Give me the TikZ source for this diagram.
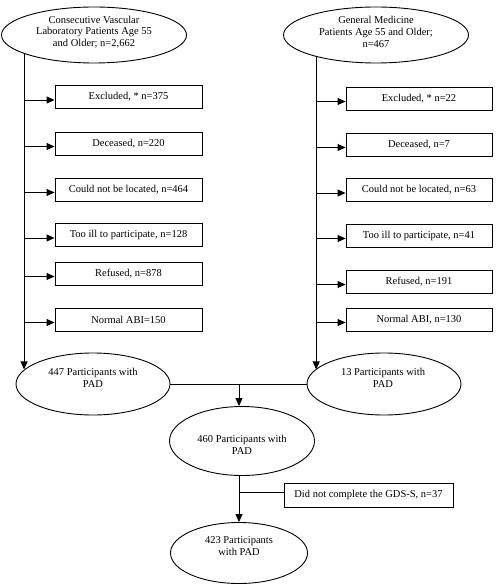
\documentclass[tikz,border=0pt]{standalone}
\usepackage{fontspec}
\setmainfont{Liberation Serif}
\usetikzlibrary{shapes.geometric,arrows.meta,calc}
\begin{document}
\begin{tikzpicture}[x=1pt,y=-1pt,
  font=\fontsize{10.5}{11.8}\selectfont,
  line width=0.9pt,
  oval/.style={draw, ellipse, inner sep=0pt},
  box/.style={draw, rectangle, minimum height=23pt, inner sep=0pt},
  lbox/.style={box, minimum width=147pt},
  rbox/.style={box, minimum width=146pt},
  arr/.style={-{Triangle[length=8pt,width=7pt]}},
  txt/.style={align=center, inner sep=0pt}]
\useasboundingbox (0,0) rectangle (496,585);

% top ellipses
\node[oval, minimum width=185pt, minimum height=56pt] (eA) at (94,35) {};
\node[txt] (tA) at (94,32) {Consecutive Vascular\\Laboratory Patients Age 55\\and Older; n=2,662};
\node[oval, minimum width=185pt, minimum height=56pt] (eB) at (376,35) {};
\node[txt] (tB) at (376,32) {General Medicine\\Patients Age 55 and Older;\\n=467};

% left boxes
\node[lbox] (bA1) at (128.5,97) {Excluded, * n=375};
\node[lbox] (bA2) at (128.5,143.5) {Deceased, n=220};
\node[lbox] (bA3) at (128.5,189.5) {Could not be located, n=464};
\node[lbox] (bA4) at (128.5,235) {Too ill to participate, n=128};
\node[lbox] (bA5) at (128.5,273.5) {Refused, n=878};
\node[lbox] (bA6) at (128.5,319.5) {Normal ABI=150};

% right boxes
\node[rbox] (bB1) at (419,98.5) {Excluded, * n=22};
\node[rbox] (bB2) at (419,144.5) {Deceased, n=7};
\node[rbox] (bB3) at (419,190) {Could not be located, n=63};
\node[rbox] (bB4) at (419,235.5) {Too ill to participate, n=41};
\node[rbox] (bB5) at (419,281.5) {Refused, n=191};
\node[rbox] (bB6) at (419,319.5) {Normal ABI, n=130};

% bottom ellipses
\node[oval, minimum width=154pt, minimum height=62pt] (e447) at (93,384) {};
\node[txt] (t447) at (93,378) {447 Participants with\\PAD};
\node[oval, minimum width=154pt, minimum height=62pt] (e13) at (384,384) {};
\node[txt] (t13) at (383,378) {13 Participants with\\PAD};
\node[oval, minimum width=145pt, minimum height=69pt] (e460) at (242,441) {};
\node[txt] (t460) at (242,445) {460 Participants with\\PAD};
\node[oval, minimum width=137pt, minimum height=61pt] (e423) at (239,553) {};
\node[txt] (t423) at (239,546) {423 Participants\\with PAD};
\node[box, minimum width=169pt, minimum height=24pt] (gds) at (368.5,495) {Did not complete the GDS-S, n=37};

% left trunk
\draw[arr] (eA.195) -- (eA.195 |- e447.168);
\foreach \b in {bA1,bA2,bA3,bA4,bA5,bA6}
  \draw[arr] ([yshift=-3pt]\b.west -| eA.195) -- ([yshift=-3pt]\b.west);

% right trunk
\draw[arr] (eB.200) -- (eB.200 |- e13.168);
\foreach \b in {bB1,bB2,bB3,bB4,bB5,bB6}
  \draw[arr] ([yshift=-3pt]\b.west -| eB.200) -- ([yshift=-3pt]\b.west);

% merge
\draw (e447.east) -- (e13.west);
\draw[arr] (e423.north |- e447.east) -- (e423.north |- e460.north);
\draw[arr] (e423.north |- e460.south) -- (e423.north);
\draw ([yshift=3pt]gds.west -| e423.north) -- ([yshift=3pt]gds.west);
\end{tikzpicture}
\end{document}
